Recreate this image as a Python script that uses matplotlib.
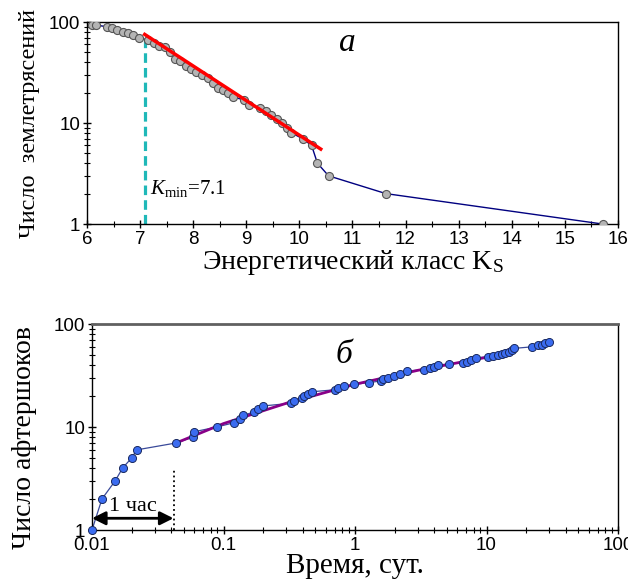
import matplotlib.pyplot as plt
from matplotlib.ticker import FixedLocator, NullFormatter, LogLocator

plt.rcParams['font.family'] = ['Liberation Sans', 'DejaVu Sans']
plt.rcParams['mathtext.fontset'] = 'custom'
plt.rcParams['mathtext.rm'] = 'Liberation Serif'
plt.rcParams['mathtext.it'] = 'Liberation Serif:italic'

# --- panel a: cumulative number of earthquakes vs energy class
K = [6.09, 6.17, 6.37, 6.48, 6.57, 6.68, 6.78, 6.87, 6.98, 7.15, 7.26, 7.36,
     7.47, 7.56, 7.65, 7.75, 7.86, 7.95, 8.06, 8.17, 8.28, 8.38, 8.47, 8.57,
     8.66, 8.75, 8.96, 9.06, 9.26, 9.37, 9.47, 9.57, 9.67, 9.76, 9.85, 10.06,
     10.23, 10.34, 10.55, 11.63, 15.71]
N_eq = [93, 93, 90, 87, 83, 80, 77, 75, 70, 66, 62, 58,
        56, 50, 43, 41, 37, 34, 32, 30, 28, 25, 22, 21,
        20, 18, 17, 15, 14, 13, 12, 11, 10, 9, 8, 7,
        6, 4, 3, 2, 1]
fit_K = [7.06, 10.43]
fit_N = [77, 5.4]
K_min = 7.1

# --- panel б: cumulative number of aftershocks vs time
t = [0.01, 0.0119, 0.015, 0.0171, 0.02, 0.0219, 0.0436, 0.059, 0.06, 0.0887,
     0.12, 0.133, 0.141, 0.171, 0.184, 0.199, 0.326, 0.343, 0.393, 0.41,
     0.436, 0.473, 0.705, 0.747, 0.824, 0.99, 1.285, 1.57, 1.62, 1.79,
     1.99, 2.2, 2.5, 3.37, 3.72, 3.99, 4.3, 5.21, 6.66, 7.07,
     7.62, 8.32, 10.3, 11.3, 12.3, 13.1, 13.8, 14.8, 15.6, 16.2,
     22.1, 24.5, 26.3, 27.9, 30.0]
N_as = [1, 2, 3, 4, 5, 6, 7, 8, 9, 10,
        11, 12, 13, 14, 15, 16, 17, 18, 19, 20,
        21, 22, 23, 24, 25, 26, 27, 28, 29, 30,
        31, 33, 35, 36, 37, 38, 40, 41, 42, 43,
        45, 47, 48, 49, 50, 51, 52, 54, 56, 58,
        60, 62, 63, 65, 67]
omori_t = [0.0436, 0.1, 0.3, 1, 3, 10, 16]
omori_N = [7, 10.8, 17, 26, 35.5, 47.5, 58]
hour = 1 / 24

xt_b = [0.01, 0.1, 1, 10, 100]
xt_b_labels = ['0.01', '0.1', '1', '10', '100']
yt = [1, 10, 100]
yt_labels = ['1', '10', '100']

fig = plt.figure(figsize=(6.28, 5.79), dpi=100)
ax1 = fig.add_axes([0.1385, 0.6131, 0.8455, 0.3489])
ax2 = fig.add_axes([0.1465, 0.0846, 0.8376, 0.3558])

serif = 'Liberation Serif'

# panel a
ax1.plot(K, N_eq, '-', color='#000080', lw=1, zorder=2)
ax1.plot(K, N_eq, 'o', ms=5.8, mfc='#b4b4b4', mec='#555555', mew=0.8, zorder=3)
ax1.plot(fit_K, fit_N, '-', color='#ff0000', lw=2.5, zorder=4, solid_capstyle='butt')
ax1.plot([K_min, K_min], [1, 66], '--', color='#1fb8b8', lw=2.3, dashes=(3, 1.6), zorder=1)
ax1.set_yscale('log')
ax1.set_xlim(6, 16)
ax1.set_ylim(1, 100)
ax1.set_xticks(range(6, 17))
ax1.xaxis.set_minor_locator(FixedLocator([k + 0.5 for k in range(6, 16)]))
ax1.set_yticks(yt)
ax1.set_yticklabels(yt_labels)
ax1.yaxis.set_minor_locator(LogLocator(subs=range(2, 10)))
ax1.yaxis.set_minor_formatter(NullFormatter())
ax1.text(10.9, 62, 'а', fontsize=24, family=serif, style='italic', ha='center', va='center')
ax1.text(7.18, 2.25, r'$\mathit{K}_{\rm min}$=7.1', fontsize=15, family=serif,
         ha='left', va='center')
ax1.set_xlabel(r'Энергетический класс K$_{\rm S}$', fontsize=20, family=serif, labelpad=0)
ax1.set_ylabel('Число  землетрясений', fontsize=17.5, family=serif, labelpad=6)

# panel б
ax2.plot(t, N_as, '-', color='#3a4a9a', lw=0.9, zorder=2)
ax2.plot(omori_t, omori_N, '-', color='#880088', lw=2, zorder=3)
ax2.plot(t, N_as, 'o', ms=5.8, mfc='#3b6cf0', mec='#1a2a60', mew=0.7, zorder=4,
         clip_on=False)
ax2.plot([hour, hour], [1, 4.0], ':', color='black', lw=1.3, zorder=1)
ax2.annotate('', xy=(0.01, 1.3), xytext=(hour, 1.3),
             arrowprops=dict(arrowstyle='<|-|>', color='black', lw=2,
                             mutation_scale=20, shrinkA=0, shrinkB=0))
ax2.text(0.0205, 1.68, '1 час', fontsize=16, family=serif, ha='center', va='center')
ax2.text(0.83, 50, 'б', fontsize=24, family=serif, style='italic', ha='center', va='center')
ax2.set_xscale('log')
ax2.set_yscale('log')
ax2.set_xlim(0.01, 100)
ax2.set_ylim(1, 100)
ax2.set_xticks(xt_b)
ax2.set_xticklabels(xt_b_labels)
ax2.set_yticks(yt)
ax2.set_yticklabels(yt_labels)
ax2.xaxis.set_minor_locator(LogLocator(subs=range(2, 10)))
ax2.xaxis.set_minor_formatter(NullFormatter())
ax2.yaxis.set_minor_locator(LogLocator(subs=range(2, 10)))
ax2.yaxis.set_minor_formatter(NullFormatter())
ax2.set_xlabel('Время, сут.', fontsize=21, family=serif, labelpad=-1)
ax2.set_ylabel('Число афтершоков', fontsize=20, family=serif, labelpad=4)
ax2.yaxis.set_label_coords(-0.105, 0.45)
ax2.spines['top'].set_color('#606060')
ax2.spines['top'].set_linewidth(2)

for ax in (ax1, ax2):
    ax.tick_params(which='major', direction='inout', length=6, width=1, labelsize=13.5, pad=2)
    ax.tick_params(which='minor', direction='inout', length=4, width=0.8)
    for s in ax.spines.values():
        s.set_linewidth(max(s.get_linewidth(), 1))

fig.savefig('out.png', dpi=100)
